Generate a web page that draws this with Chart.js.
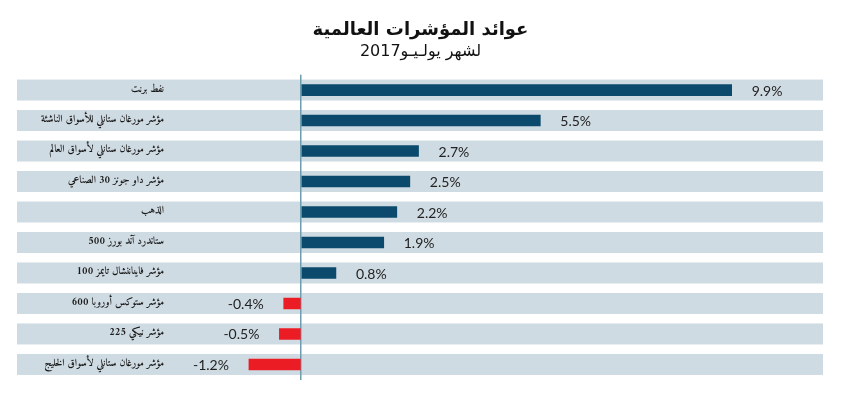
<!DOCTYPE html>
<html>
<head>
<meta charset="utf-8">
<script src="https://cdn.jsdelivr.net/npm/chart.js@4/dist/chart.umd.min.js"></script>
<style>
  html, body { margin: 0; padding: 0; background: #fff; }
  #wrap { width: 841px; height: 397px; }
</style>
</head>
<body>
<div id="wrap"><canvas id="returns-chart"></canvas></div>
<script>
// data
const titleText = 'عوائد المؤشرات العالمية';
const subtitleText = 'لشهر يولـيـو2017';
const categories = [
    'نفط برنت',
    'مؤشر مورغان ستانلي للأسواق الناشئة',
    'مؤشر مورغان ستانلي لأسواق العالم',
    'مؤشر داو جونز 30 الصناعي',
    'الذهب',
    'ستاندرد آند بورز 500',
    'مؤشر فايناننشال تايمز 100',
    'مؤشر ستوكس أوروبا 600',
    'مؤشر نيكي 225',
    'مؤشر مورغان ستانلي لأسواق الخليج'
];
const returns = [9.9, 5.5, 2.7, 2.5, 2.2, 1.9, 0.8, -0.4, -0.5, -1.2];

const POS_COLOR = '#0b4a6c';
const NEG_COLOR = '#ec1c24';
const BAND_COLOR = '#cfdbe3';
const AXIS_COLOR = '#6f9db0';

/* light row bands behind each category (drawn before the axis labels) */
const rowBands = {
    id: 'rowBands',
    beforeDraw(chart) {
        const { ctx, chartArea, scales } = chart;
        ctx.save();
        ctx.fillStyle = BAND_COLOR;
        categories.forEach(function (c, i) {
            const y = scales.y.getPixelForValue(i);
            ctx.fillRect(17, y - 10.5, chartArea.right - 17, 21);
        });
        ctx.restore();
    }
};

/* value labels next to the bars */
const valueLabels = {
    id: 'valueLabels',
    afterDatasetsDraw(chart) {
        const { ctx } = chart;
        const meta = chart.getDatasetMeta(0);
        ctx.save();
        ctx.font = '14px Lato';
        ctx.fillStyle = '#222';
        ctx.textBaseline = 'middle';
        meta.data.forEach(function (bar, i) {
            const v = returns[i];
            const txt = v.toFixed(1) + '%';
            if (v >= 0) {
                ctx.textAlign = 'left';
                ctx.fillText(txt, bar.x + 20, bar.y + 1);
            } else {
                ctx.textAlign = 'right';
                ctx.fillText(txt, bar.x - 20, bar.y + 1);
            }
        });
        ctx.restore();
    }
};

const ctx = document.getElementById('returns-chart');
new Chart(ctx, {
    type: 'bar',
    data: {
        labels: categories,
        datasets: [{
            data: returns,
            backgroundColor: returns.map(v => v < 0 ? NEG_COLOR : POS_COLOR),
            barThickness: 11
        }]
    },
    options: {
        indexAxis: 'y',
        responsive: true,
        maintainAspectRatio: false,
        animation: false,
        layout: { padding: { top: 10, bottom: 16, left: 18, right: 18 } },
        plugins: {
            legend: { display: false },
            tooltip: { enabled: false },
            title: {
                display: true,
                text: titleText,
                color: '#111',
                font: { family: 'DejaVu Sans', size: 18, weight: 'bold' },
                padding: { top: 10, bottom: 1 }
            },
            subtitle: {
                display: true,
                text: subtitleText,
                color: '#111',
                font: { family: 'DejaVu Sans', size: 16 },
                padding: { top: 0, bottom: 13 }
            }
        },
        scales: {
            x: {
                min: -2.9,
                max: 12,
                ticks: { display: false, stepSize: 1 },
                border: { display: false },
                grid: {
                    drawTicks: false,
                    lineWidth: 1.5,
                    color: c => c.tick && c.tick.value === 0 ? AXIS_COLOR : 'transparent'
                }
            },
            y: {
                afterFit(scale) { scale.width = 157; },
                border: { display: false },
                grid: { display: false, drawTicks: false },
                ticks: {
                    padding: 11,
                    color: '#1a1a1a',
                    font: { family: 'Amiri', size: 10.5, weight: 'bold' }
                }
            }
        }
    },
    plugins: [rowBands, valueLabels]
});
</script>
</body>
</html>
